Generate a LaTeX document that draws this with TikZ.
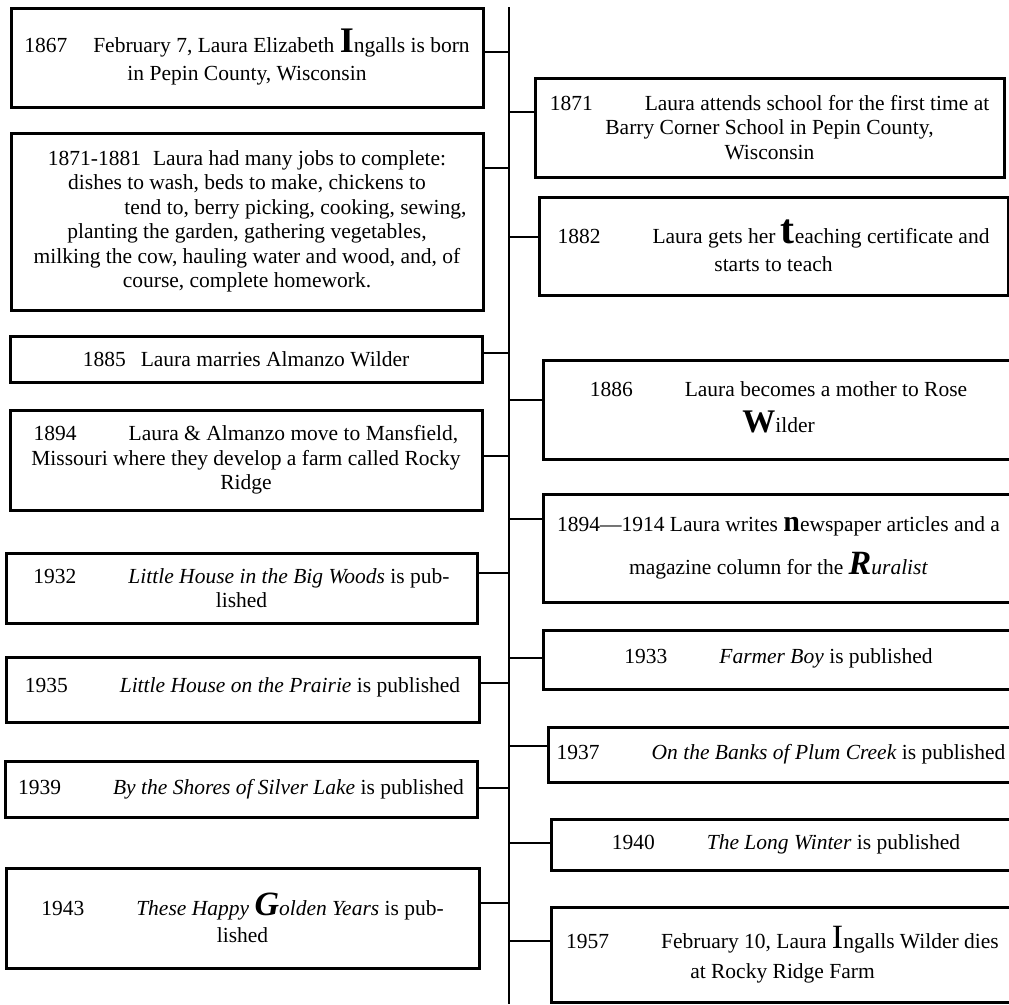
\documentclass[tikz,border=0pt]{standalone}
\usepackage{fontspec}
\setmainfont{Liberation Serif}
\usepackage{tikz}

\newcommand{\tabgap}{\hspace{52pt}}
\newcommand{\bigch}[2]{{\fontsize{#1}{#1}\selectfont #2}}
\newcommand{\lift}[2]{\raisebox{#1}{\begin{tabular}{@{}c@{}}#2\end{tabular}}}

\begin{document}
\begin{tikzpicture}[x=1pt, y=-1pt,
    box/.style={draw, line width=3pt, align=center, inner sep=0pt,
      font=\fontsize{21.5}{24.5}\selectfont},
    link/.style={line width=1.6pt}]
    \useasboundingbox (0,0) rectangle (1009,1004);

    % Time line
    \coordinate (top) at (509,7);
    \coordinate (bot) at (509,1004);
    \draw[link] (top) -- (bot);

    % Left boxes
    \node[box, minimum width=472pt, minimum height=99pt] (b1867) at (247,57.5)
      {1867\hspace{26pt}February 7, Laura Elizabeth \bigch{36}{\bfseries I}ngalls is born\\[3.5pt]
       in Pepin County, Wisconsin};
    \node[box, minimum width=472pt, minimum height=177pt] (b1871) at (247,221.5)
      {1871-1881\hspace{12pt}Laura had many jobs to complete:\\
       dishes to wash, beds to make, chickens to\\
       \hspace*{97pt}tend to, berry picking, cooking, sewing,\\
       planting the garden, gathering vegetables,\\
       milking the cow, hauling water and wood, and, of\\
       course, complete homework.};
    \node[box, minimum width=472pt, minimum height=46pt] (b1885) at (246,359)
      {1885\hspace{15pt}Laura marries Almanzo Wilder};
    \node[box, minimum width=472pt, minimum height=100pt] (b1894) at (246,460)
      {1894\tabgap Laura \& Almanzo move to Mansfield,\\
       Missouri where they develop a farm called Rocky\\
       Ridge};
    \node[box, minimum width=471pt, minimum height=70pt] (b1932) at (241.5,588)
      {1932\tabgap\textit{Little House in the Big Woods} is pub-\\
       lished};
    \node[box, minimum width=473pt, minimum height=65pt] (b1935) at (242.5,689.5)
      {\raisebox{8pt}{1935\tabgap\textit{Little House on the Prairie} is published}};
    \node[box, minimum width=472pt, minimum height=56pt] (b1939) at (241,789)
      {\raisebox{4pt}{1939\tabgap\textit{By the Shores of Silver Lake} is published}};
    \node[box, minimum width=473pt, minimum height=100pt] (b1943) at (242.5,918)
      {1943\tabgap\textit{These Happy \bigch{34}{\bfseries G}olden Years} is pub-\\[3pt]
       lished};

    % Left connectors
    \draw[link] ([yshift=5.5pt]b1867.east) -- ([yshift=5.5pt]top |- b1867.east);
    \draw[link] ([yshift=53.5pt]b1871.east) -- ([yshift=53.5pt]top |- b1871.east);
    \draw[link] ([yshift=6pt]b1885.east) -- ([yshift=6pt]top |- b1885.east);
    \draw[link] ([yshift=4pt]b1894.east) -- ([yshift=4pt]top |- b1894.east);
    \draw[link] ([yshift=15pt]b1932.east) -- ([yshift=15pt]top |- b1932.east);
    \draw[link] ([yshift=6.5pt]b1935.east) -- ([yshift=6.5pt]top |- b1935.east);
    \draw[link] ([yshift=1pt]b1939.east) -- ([yshift=1pt]top |- b1939.east);
    \draw[link] ([yshift=15pt]b1943.east) -- ([yshift=15pt]top |- b1943.east);

    % Right boxes
    \node[box, minimum width=469pt, minimum height=99pt] (r1871) at (769.5,127.5)
      {1871\tabgap Laura attends school for the first time at\\
       Barry Corner School in Pepin County,\\
       Wisconsin};
    \node[box, minimum width=469pt, minimum height=98pt] (r1882) at (773.5,246)
      {1882\tabgap Laura gets her \bigch{42}{\bfseries t}eaching certificate and\\[3.5pt]
       starts to teach};
    \node[box, minimum width=471pt, minimum height=99pt] (r1886) at (778.5,409.5)
      {\lift{9pt}{1886\tabgap Laura becomes a mother to Rose\\[7pt]
       \bigch{33}{\bfseries W}ilder}};
    \node[box, minimum width=471pt, minimum height=108pt] (r1894) at (778.5,548)
      {\lift{-6pt}{1894---1914 Laura writes \bigch{30}{\bfseries n}ewspaper articles and a\\[14pt]
       magazine column for the \bigch{34}{\bfseries\itshape R}\textit{uralist}}};
    \node[box, minimum width=471pt, minimum height=59pt] (r1933) at (778.5,659.5)
      {\raisebox{6pt}{1933\tabgap\textit{Farmer Boy} is published}};
    \node[box, minimum width=466pt, minimum height=55pt] (r1937) at (781,754.5)
      {\raisebox{2pt}{1937\tabgap\textit{On the Banks of Plum Creek} is published}};
    \node[box, minimum width=463pt, minimum height=51pt] (r1940) at (782.5,844.5)
      {\hspace*{7pt}1940\tabgap\textit{The Long Winter} is published};
    \node[box, minimum width=463pt, minimum height=95pt] (r1957) at (782.5,954.5)
      {1957\tabgap February 10, Laura \bigch{34}{I}ngalls Wilder dies\\[5pt]
       at Rocky Ridge Farm};

    % Right connectors
    \draw[link] ([yshift=15.5pt]top |- r1871.west) -- ([yshift=15.5pt]r1871.west);
    \draw[link] ([yshift=9pt]top |- r1882.west) -- ([yshift=9pt]r1882.west);
    \draw[link] ([yshift=9.5pt]top |- r1886.west) -- ([yshift=9.5pt]r1886.west);
    \draw[link] ([yshift=29pt]top |- r1894.west) -- ([yshift=29pt]r1894.west);
    \draw[link] ([yshift=1.5pt]top |- r1933.west) -- ([yshift=1.5pt]r1933.west);
    \draw[link] ([yshift=8.5pt]top |- r1937.west) -- ([yshift=8.5pt]r1937.west);
    \draw[link] ([yshift=1.5pt]top |- r1940.west) -- ([yshift=1.5pt]r1940.west);
    \draw[link] ([yshift=13.5pt]top |- r1957.west) -- ([yshift=13.5pt]r1957.west);
  \end{tikzpicture}
\end{document}
